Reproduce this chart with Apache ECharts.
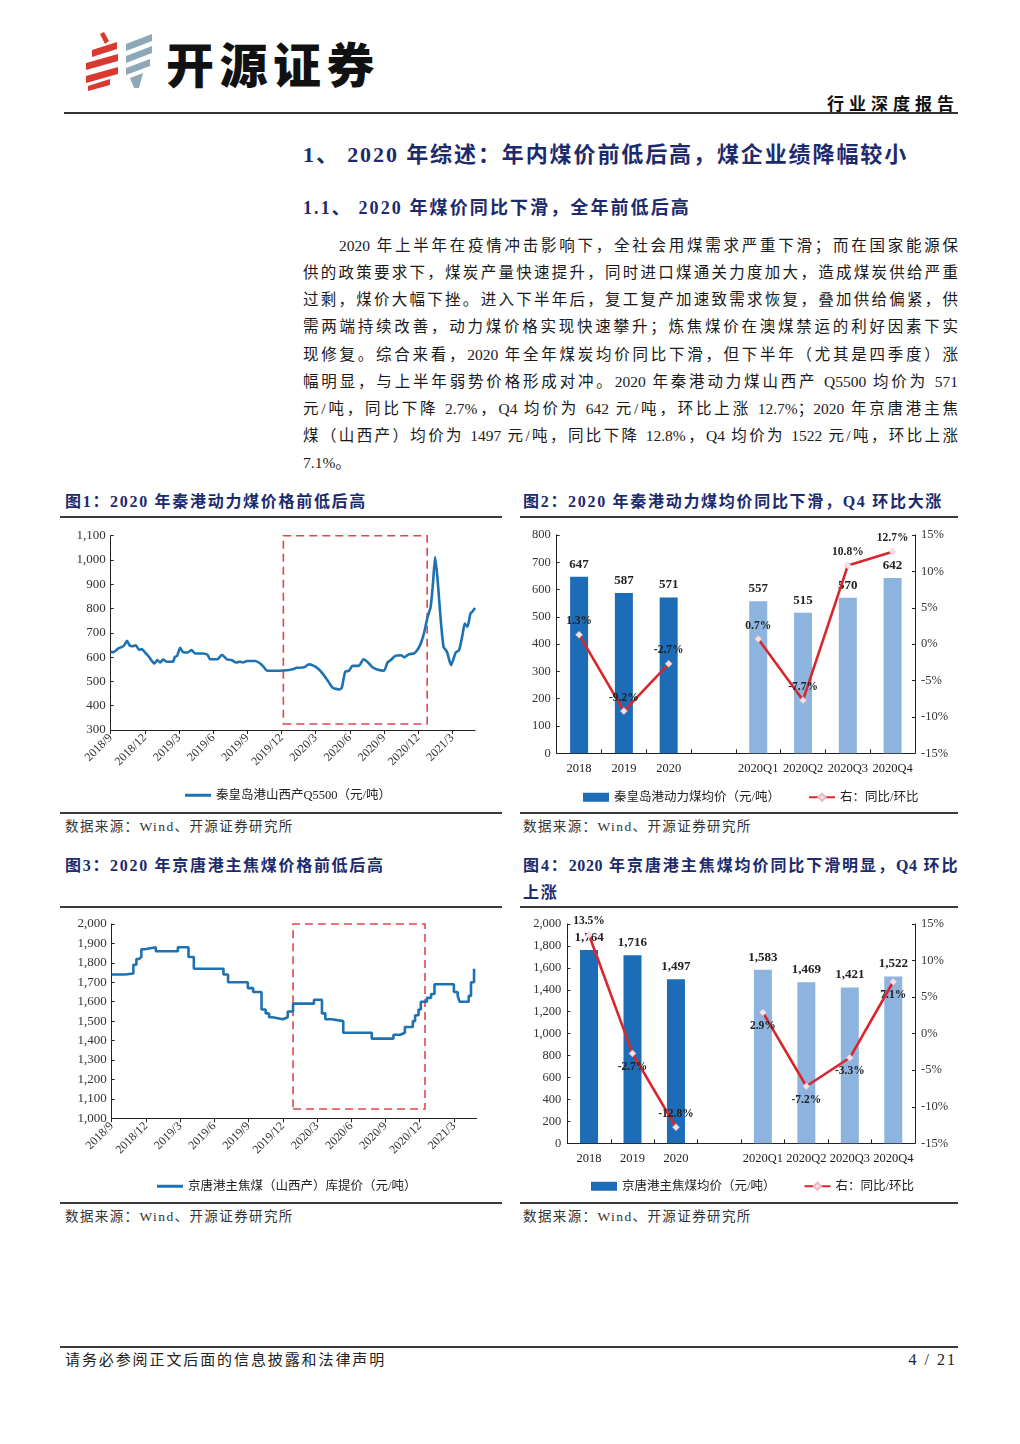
<!DOCTYPE html>
<html><head><meta charset="utf-8">
<script src="https://cdn.jsdelivr.net/npm/echarts/dist/echarts.min.js"></script>
<style>
html,body{margin:0;padding:0;background:#fff;}
#page{position:relative;width:1020px;height:1444px;background:#fff;overflow:hidden;font-family:'Liberation Serif','Noto Sans CJK SC',serif;color:#1a1a1a;}
.abs{position:absolute;white-space:nowrap;}
.rule{position:absolute;background:#3a3a3a;height:1.5px;}
.h{color:#1c2a6e;font-weight:bold;}
.pl{position:absolute;left:303px;width:655px;font-size:15.5px;line-height:20px;height:20px;text-align:justify;text-align-last:justify;white-space:nowrap;overflow:visible;}
.ft{position:absolute;font-size:16px;line-height:20px;height:20px;color:#1c2a6e;font-weight:bold;letter-spacing:1.7px;}
.src{position:absolute;font-size:13.5px;line-height:18px;color:#333;letter-spacing:1.4px;}
.chart{position:absolute;}
</style></head>
<body><div id="page">
<svg class="abs" style="left:80px;top:28px" width="80" height="66" viewBox="80 28 80 66">
 <polygon points="100,34 104,32 109,41 105,44" fill="#d93a2f"/>
 <polygon points="92,50 117,42 117,49 92,57" fill="#d93a2f"/>
 <polygon points="86,63 118,54 118,61 86,70" fill="#d93a2f"/>
 <polygon points="86,76 118,67 118,74 86,83" fill="#d93a2f"/>
 <polygon points="88,86 110,79 110,85 88,91" fill="#d93a2f"/>
 <polygon points="126,44 152,34 152,41 126,51" fill="#8ea8b8"/>
 <polygon points="126,56 152,46 152,53 126,63" fill="#8ea8b8"/>
 <polygon points="126,68 150,59 150,66 126,75" fill="#8ea8b8"/>
 <polygon points="130,78 143,73 139,88 134,88" fill="#8ea8b8"/>
</svg>
<div class="abs" style="left:166px;top:32px;font-family:'Noto Sans CJK SC';font-size:48px;line-height:60px;font-weight:900;letter-spacing:5.5px;color:#111;">开源证券</div>
<div class="abs" style="right:61px;top:92px;font-family:'Noto Sans CJK SC';font-size:17px;line-height:22px;font-weight:bold;letter-spacing:5px;color:#111;">行业深度报告</div>
<div class="rule" style="left:64px;top:112px;width:894px;height:2px;background:#333;"></div>

<div class="abs h" style="left:303px;top:141px;font-size:22px;line-height:28px;letter-spacing:1.9px;">1、 2020 年综述：年内煤价前低后高，煤企业绩降幅较小</div>
<div class="abs h" style="left:303px;top:196px;font-size:18px;line-height:24px;letter-spacing:2.1px;">1.1、 2020 年煤价同比下滑，全年前低后高</div>

<div class="pl" style="top:236px;left:339px;width:619px;">2020 年上半年在疫情冲击影响下，全社会用煤需求严重下滑；而在国家能源保</div>
<div class="pl" style="top:263px;">供的政策要求下，煤炭产量快速提升，同时进口煤通关力度加大，造成煤炭供给严重</div>
<div class="pl" style="top:290px;">过剩，煤价大幅下挫。进入下半年后，复工复产加速致需求恢复，叠加供给偏紧，供</div>
<div class="pl" style="top:317px;">需两端持续改善，动力煤价格实现快速攀升；炼焦煤价在澳煤禁运的利好因素下实</div>
<div class="pl" style="top:345px;">现修复。综合来看，2020 年全年煤炭均价同比下滑，但下半年（尤其是四季度）涨</div>
<div class="pl" style="top:372px;">幅明显，与上半年弱势价格形成对冲。2020 年秦港动力煤山西产 Q5500 均价为 571</div>
<div class="pl" style="top:399px;">元/吨，同比下降 2.7%，Q4 均价为 642 元/吨，环比上涨 12.7%；2020 年京唐港主焦</div>
<div class="pl" style="top:426px;">煤（山西产）均价为 1497 元/吨，同比下降 12.8%，Q4 均价为 1522 元/吨，环比上涨</div>
<div class="pl" style="top:453px;text-align:left;text-align-last:left;">7.1%。</div>

<div class="ft" style="left:65px;top:492px;">图1：2020 年秦港动力煤价格前低后高</div>
<div class="ft" style="left:523px;top:492px;">图2：2020 年秦港动力煤均价同比下滑，Q4 环比大涨</div>
<div class="rule" style="left:60px;top:516px;width:442px;"></div>
<div class="rule" style="left:520px;top:516px;width:438px;"></div>

<div id="c1" class="chart" style="left:60px;top:518px;width:440px;height:294px;"></div>
<div id="c2" class="chart" style="left:515px;top:518px;width:445px;height:294px;"></div>

<div class="rule" style="left:60px;top:812px;width:442px;"></div>
<div class="rule" style="left:520px;top:812px;width:438px;"></div>
<div class="src" style="left:65px;top:818px;">数据来源：Wind、开源证券研究所</div>
<div class="src" style="left:523px;top:818px;">数据来源：Wind、开源证券研究所</div>

<div class="ft" style="left:65px;top:856px;">图3：2020 年京唐港主焦煤价格前低后高</div>
<div class="ft" style="left:523px;top:856px;width:435px;text-align:justify;text-align-last:justify;letter-spacing:0.6px;">图4：2020 年京唐港主焦煤均价同比下滑明显，Q4 环比</div>
<div class="ft" style="left:523px;top:883px;">上涨</div>
<div class="rule" style="left:60px;top:906px;width:442px;"></div>
<div class="rule" style="left:520px;top:906px;width:438px;"></div>

<div id="c3" class="chart" style="left:60px;top:908px;width:440px;height:292px;"></div>
<div id="c4" class="chart" style="left:515px;top:908px;width:445px;height:292px;"></div>

<div class="rule" style="left:60px;top:1202px;width:442px;"></div>
<div class="rule" style="left:520px;top:1202px;width:438px;"></div>
<div class="src" style="left:65px;top:1208px;">数据来源：Wind、开源证券研究所</div>
<div class="src" style="left:523px;top:1208px;">数据来源：Wind、开源证券研究所</div>

<div class="rule" style="left:60px;top:1346px;width:898px;"></div>
<div class="abs" style="left:65px;top:1350px;font-size:15px;line-height:20px;letter-spacing:1.9px;color:#222;">请务必参阅正文后面的信息披露和法律声明</div>
<div class="abs" style="right:63px;top:1350px;font-size:16px;line-height:20px;letter-spacing:2px;color:#222;">4 / 21</div>
</div>
<script>
// ---------- data ----------
const quarterTickLabels = ['2018/9','2018/12','2019/3','2019/6','2019/9','2019/12','2020/3','2020/6','2020/9','2020/12','2021/3'];

const qhdDates = ['2018-09-01','2018-09-07','2018-09-14','2018-09-21','2018-10-01','2018-10-07','2018-10-14','2018-10-21','2018-10-28','2018-11-07','2018-11-16','2018-11-23','2018-12-01','2018-12-10','2018-12-19','2018-12-26','2019-01-04','2019-01-11','2019-01-19','2019-01-28','2019-02-07','2019-02-16','2019-02-20','2019-02-26','2019-03-04','2019-03-11','2019-03-23','2019-04-04','2019-04-14','2019-05-04','2019-05-16','2019-05-23','2019-06-12','2019-06-24','2019-07-07','2019-07-19','2019-08-02','2019-08-11','2019-08-19','2019-09-01','2019-09-22','2019-10-05','2019-10-14','2019-10-23','2019-11-24','2019-12-21','2020-01-07','2020-01-10','2020-02-01','2020-02-13','2020-02-25','2020-03-07','2020-03-19','2020-04-04','2020-04-16','2020-05-04','2020-05-10','2020-05-19','2020-05-29','2020-06-08','2020-06-25','2020-07-07','2020-07-19','2020-08-01','2020-08-13','2020-09-01','2020-09-10','2020-09-19','2020-10-01','2020-10-16','2020-10-25','2020-11-07','2020-11-20','2020-11-29','2020-12-08','2020-12-17','2020-12-26','2021-01-04','2021-01-10','2021-01-16','2021-01-23','2021-01-29','2021-02-08','2021-02-17','2021-02-28','2021-03-10','2021-03-19','2021-03-28','2021-04-04','2021-04-11','2021-04-19','2021-04-25','2021-05-01'];
const qhdPrices = [622,620,626,636,642,650,667,648,645,649,630,633,620,605,585,574,588,578,590,581,581,583,601,605,638,622,619,629,615,615,610,591,591,610,591,588,578,581,578,584,584,574,560,544,544,547,553,556,558,570,565,553,533,501,474,467,474,540,544,564,564,591,578,558,549,544,577,588,605,608,599,612,615,629,656,701,765,806,899,1012,909,786,643,622,567,619,629,691,738,725,779,789,802];
const qhdBoxDates = ['2019-12-06','2020-12-25'];
const qhdBoxValues = [325, 1122];

const jtgDates = ['2018-09-01','2018-10-06','2018-10-28','2018-11-06','2018-11-13','2018-11-19','2018-11-28','2018-12-27','2019-02-25','2019-03-23','2019-04-07','2019-06-25','2019-07-07','2019-08-29','2019-09-13','2019-10-05','2019-10-16','2019-10-25','2019-11-04','2019-12-01','2019-12-14','2019-12-28','2020-02-23','2020-03-14','2020-03-23','2020-04-10','2020-05-10','2020-07-25','2020-09-22','2020-10-10','2020-10-22','2020-11-13','2020-11-19','2020-11-28','2020-12-04','2020-12-20','2021-01-01','2021-01-10','2021-03-01','2021-03-11','2021-03-16','2021-04-10','2021-04-16','2021-04-24'];
const jtgPrices = [1740,1745,1790,1820,1830,1870,1880,1860,1880,1830,1770,1740,1700,1670,1650,1560,1540,1520,1510,1520,1550,1590,1610,1540,1510,1500,1440,1410,1430,1440,1470,1500,1530,1560,1600,1620,1640,1690,1650,1630,1600,1630,1700,1770];
const jtgBoxDates = ['2019-12-28','2020-12-15'];
const jtgBoxValues = [1048, 2046];

const periodCats = ['2018','2019','2020','','2020Q1','2020Q2','2020Q3','2020Q4'];
const qhdAvg = [647,587,571,null,557,515,570,642];
const qhdChg = [1.3,-9.2,-2.7,null,0.7,-7.7,10.8,12.7];
const jtgAvg = [1764,1716,1497,null,1583,1469,1421,1522];
const jtgChg = [13.5,-2.7,-12.8,null,2.9,-7.2,-3.3,7.1];

const name1 = '秦皇岛港山西产Q5500（元/吨）';
const name3 = '京唐港主焦煤（山西产）库提价（元/吨）';
const name2 = '秦皇岛港动力煤均价（元/吨）';
const name4 = '京唐港主焦煤均价（元/吨）';
const nameChg = '右：同比/环比';

// ---------- styles ----------
const FONT = "'Liberation Serif','Noto Sans CJK SC',serif";
const LINE_BLUE = '#1f72b2';
const DARK_BLUE = '#1c6cb7';
const LIGHT_BLUE = '#8db3df';
const RED = '#d9262c';
const BOX_RED = '#e0474c';
const chg4LabelPos = ['top','bottom','top','top','bottom','bottom','bottom','bottom'];

const toMonths = d => { const p = d.split('-').map(Number); return (p[0]-2018)*12 + (p[1]-9) + (p[2]-1)/30; };
const thousands = v => Number(v).toLocaleString('en-US');
const tickVals = quarterTickLabels.map((_, i) => i*3);

function timeLineOption(grid, name, dates, vals, ymin, ymax, yint, boxD, boxV, step) {
  return {
    animation: false,
    grid: grid,
    legend: {left: grid.legendLeft, top: grid.legendTop, itemWidth: 26, itemHeight: 3,
      textStyle: {fontFamily: FONT, fontSize: 12.5, color: '#222'}, data: [{name: name, icon: 'rect'}]},
    xAxis: {type: 'value', min: 0, max: 32,
      axisLine: {lineStyle: {color: '#222', width: 1}},
      axisTick: {show: true, length: 4, lineStyle: {color: '#222'}, customValues: tickVals},
      axisLabel: {customValues: tickVals, rotate: 45, margin: 6, fontFamily: FONT, fontSize: 12, color: '#333',
        formatter: v => quarterTickLabels[Math.round(v/3)]},
      splitLine: {show: false}},
    yAxis: {type: 'value', min: ymin, max: ymax, interval: yint,
      axisLine: {show: true, lineStyle: {color: '#222', width: 1}},
      axisTick: {show: true, inside: true, length: 3, lineStyle: {color: '#222'}},
      axisLabel: {fontFamily: FONT, fontSize: 13, color: '#333', margin: 5, formatter: thousands},
      splitLine: {show: false}},
    series: [{
      name: name, type: 'line', symbol: 'none', clip: false,
      step: step ? 'end' : false, smooth: step ? false : 0.2,
      lineStyle: {color: LINE_BLUE, width: 2.6}, itemStyle: {color: LINE_BLUE},
      data: dates.map((d, i) => [toMonths(d), vals[i]]),
      markArea: {silent: true,
        itemStyle: {color: 'rgba(0,0,0,0)', borderColor: BOX_RED, borderWidth: 1.6, borderType: [8, 5]},
        data: [[{xAxis: toMonths(boxD[0]), yAxis: boxV[0]}, {xAxis: toMonths(boxD[1]), yAxis: boxV[1]}]]}
    }]
  };
}

function barLineOption(grid, barName, avg, chg, ymax, yint, labelPos) {
  return {
    animation: false,
    grid: grid,
    legend: {left: grid.legendLeft, top: grid.legendTop, itemGap: 28, itemWidth: 26, itemHeight: 9,
      textStyle: {fontFamily: FONT, fontSize: 12.5, color: '#222'},
      data: [{name: barName, icon: 'rect'}, {name: nameChg}]},
    xAxis: {type: 'category', data: periodCats,
      axisLine: {lineStyle: {color: '#222'}},
      axisTick: {show: true, inside: true, length: 4, interval: 0, lineStyle: {color: '#222'}},
      axisLabel: {interval: 0, fontFamily: FONT, fontSize: 12.5, color: '#222', margin: 9}},
    yAxis: [
      {type: 'value', min: 0, max: ymax, interval: yint,
        axisLine: {show: true, lineStyle: {color: '#222'}},
        axisTick: {show: true, inside: true, length: 3, lineStyle: {color: '#222'}},
        axisLabel: {fontFamily: FONT, fontSize: 12.5, color: '#333', margin: 6, formatter: thousands},
        splitLine: {show: false}},
      {type: 'value', min: -15, max: 15, interval: 5, position: 'right',
        axisLine: {show: true, lineStyle: {color: '#222'}},
        axisTick: {show: true, inside: true, length: 3, lineStyle: {color: '#222'}},
        axisLabel: {fontFamily: FONT, fontSize: 12.5, color: '#333', margin: 6, formatter: '{value}%'},
        splitLine: {show: false}}
    ],
    series: [
      {name: barName, type: 'bar', barWidth: 18, itemStyle: {color: DARK_BLUE},
        data: avg.map((v, i) => i < 3 ? v : {value: v, itemStyle: {color: LIGHT_BLUE}}),
        label: {show: true, position: 'top', distance: 6, fontFamily: FONT, fontWeight: 'bold', fontSize: 13, color: '#222',
          formatter: p => thousands(p.value)}},
      {name: nameChg, type: 'line', yAxisIndex: 1, z: 5,
        symbol: 'diamond', symbolSize: 7, connectNulls: false,
        lineStyle: {color: RED, width: 2.6},
        itemStyle: {color: '#f7dfe3', borderColor: '#eab8c0', borderWidth: 0.5},
        data: chg.map((v, i) => ({value: v, label: {position: labelPos[i]}})),
        label: {show: true, distance: 4, fontFamily: FONT, fontWeight: 'bold', fontSize: 11.5, color: '#222',
          formatter: p => p.value.toFixed(1) + '%'}}
    ]
  };
}

const c1 = echarts.init(document.getElementById('c1'));
c1.setOption(timeLineOption({left: 50.7, top: 17.7, width: 364.3, height: 194.3, legendLeft: 120, legendTop: 266},
  name1, qhdDates, qhdPrices, 300, 1100, 100, qhdBoxDates, qhdBoxValues, false));

const c3 = echarts.init(document.getElementById('c3'));
c3.setOption(timeLineOption({left: 51.7, top: 16, width: 365, height: 194.3, legendLeft: 92, legendTop: 267},
  name3, jtgDates, jtgPrices, 1000, 2000, 100, jtgBoxDates, jtgBoxValues, true));

const c2 = echarts.init(document.getElementById('c2'));
c2.setOption(barLineOption({left: 41.7, top: 17, width: 358.3, height: 218.3, legendLeft: 63, legendTop: 268},
  name2, qhdAvg, qhdChg, 800, 100, periodCats.map(() => 'top')));

const c4 = echarts.init(document.getElementById('c4'));
c4.setOption(barLineOption({left: 52.3, top: 16, width: 347.7, height: 219.3, legendLeft: 71, legendTop: 267},
  name4, jtgAvg, jtgChg, 2000, 200, chg4LabelPos));
</script>
</body></html>
